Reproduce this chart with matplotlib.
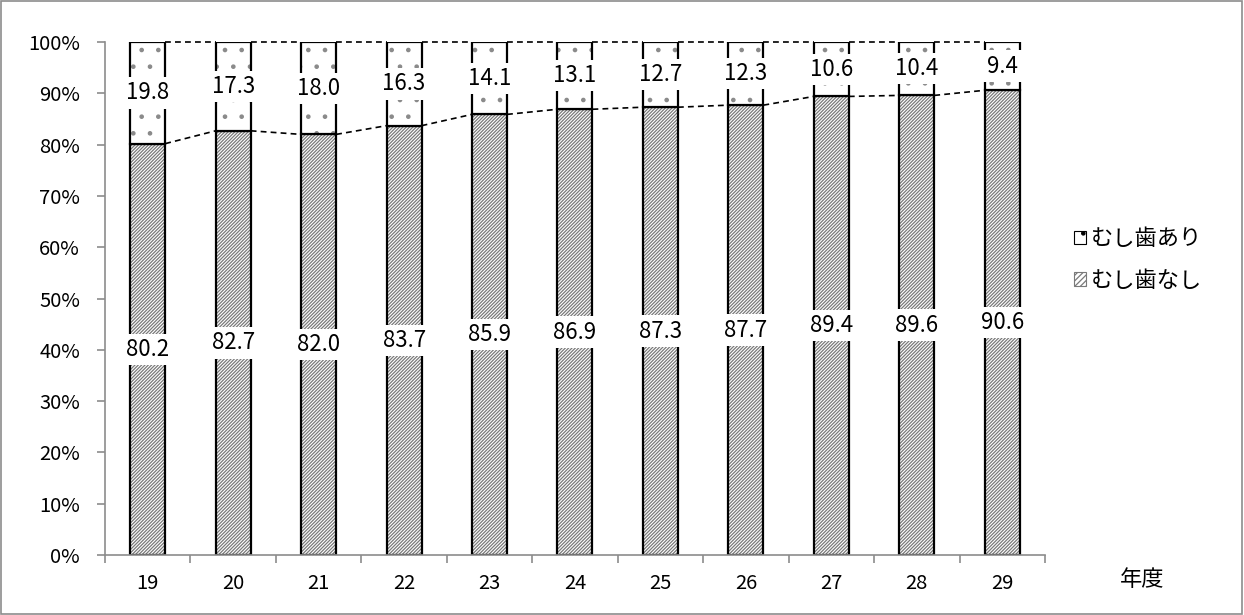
import matplotlib.pyplot as plt
import numpy as np
from matplotlib.patches import Patch, Rectangle

plt.rcParams["font.family"] = ["Noto Sans CJK JP", "DejaVu Sans"]
plt.rcParams["hatch.linewidth"] = 0.9

YEARS = ["19", "20", "21", "22", "23", "24", "25", "26", "27", "28", "29"]
NO_CAVITY = [80.2, 82.7, 82.0, 83.7, 85.9, 86.9, 87.3, 87.7, 89.4, 89.6, 90.6]
CAVITY = [19.8, 17.3, 18.0, 16.3, 14.1, 13.1, 12.7, 12.3, 10.6, 10.4, 9.4]
LEGEND_LABELS = ["むし歯あり", "むし歯なし"]

BAR_WIDTH = 0.41
HATCH_GRAY = "#7a7a7a"
DOT_GRAY = "#8a8a8a"
AXIS_GRAY = "#8c8c8c"


def draw_stack(axes, positions, bottom, height, hatch, hatch_color):
    # hatch layer first, then a black outline on top
    axes.bar(positions, height, BAR_WIDTH, bottom=bottom, color="white",
             edgecolor=hatch_color, hatch=hatch, linewidth=0)
    axes.bar(positions, height, BAR_WIDTH, bottom=bottom, fill=False,
             edgecolor="black", linewidth=1.6)


def label_segments(axes, positions, bottom, height):
    for x, b, h in zip(positions, bottom, height):
        axes.text(x, (b + h / 2) / 100, f"{h:.1f}", ha="center", va="center",
                  fontsize=16, zorder=5,
                  bbox=dict(facecolor="white", edgecolor="none", pad=3))


def main():
    figure = plt.figure(figsize=(12.44, 6.15), dpi=100)
    figure.patches.append(Rectangle((0.001, 0.002), 0.997, 0.996,
                                    transform=figure.transFigure,
                                    fill=False, edgecolor=AXIS_GRAY,
                                    linewidth=1.2))
    axes = figure.add_axes([0.0844, 0.0976, 0.7556, 0.834])

    positions = np.arange(len(YEARS))
    no_cavity = np.array(NO_CAVITY) / 100
    cavity = np.array(CAVITY) / 100

    draw_stack(axes, positions, 0, no_cavity, "//////////", HATCH_GRAY)
    draw_stack(axes, positions, no_cavity, cavity, ".", DOT_GRAY)

    # series lines between neighbouring bars
    for i in range(len(YEARS) - 1):
        x0 = positions[i] + BAR_WIDTH / 2
        x1 = positions[i + 1] - BAR_WIDTH / 2
        axes.plot([x0, x1], [no_cavity[i], no_cavity[i + 1]], color="black",
                  linestyle=(0, (3.5, 2.5)), linewidth=1.2)
        axes.plot([x0, x1], [1.0, 1.0], color="black",
                  linestyle=(0, (3.5, 2.5)), linewidth=1.2, clip_on=False)

    label_segments(axes, positions, np.zeros(len(YEARS)), NO_CAVITY)
    label_segments(axes, positions, NO_CAVITY, CAVITY)

    axes.set_xlim(-0.5, len(YEARS) - 0.5)
    axes.set_ylim(0, 1.0)
    ticks = np.arange(0, 1.01, 0.1)
    axes.set_yticks(ticks)
    axes.set_yticklabels([f"{int(round(v * 100))}%" for v in ticks])
    axes.set_xticks(positions)
    axes.set_xticklabels(YEARS)
    axes.set_xticks(np.arange(-0.5, len(YEARS), 1), minor=True)
    axes.tick_params(axis="x", which="major", length=0, labelsize=14.5, pad=13)
    axes.tick_params(axis="x", which="minor", length=6, color=AXIS_GRAY, width=1.2)
    axes.tick_params(axis="y", length=6, color=AXIS_GRAY, width=1.2,
                     labelsize=14.5, pad=12)

    for side in ("top", "right"):
        axes.spines[side].set_visible(False)
    for side in ("left", "bottom"):
        axes.spines[side].set_color(AXIS_GRAY)
        axes.spines[side].set_linewidth(1.2)

    handles = [
        Patch(facecolor="white", edgecolor="black", hatch=".", linewidth=0.8),
        Patch(facecolor="white", edgecolor=HATCH_GRAY, hatch="//////", linewidth=0.8),
    ]
    figure.legend(handles, LEGEND_LABELS, loc="center left",
                  bbox_to_anchor=(0.847, 0.578), frameon=False, fontsize=16,
                  handlelength=0.55, handleheight=0.55, handletextpad=0.25,
                  labelspacing=0.85)

    figure.text(0.918, 0.057, "年度", ha="center", va="center", fontsize=16)

    figure.savefig("out.png", dpi=100)
    plt.close(figure)


if __name__ == "__main__":
    main()
